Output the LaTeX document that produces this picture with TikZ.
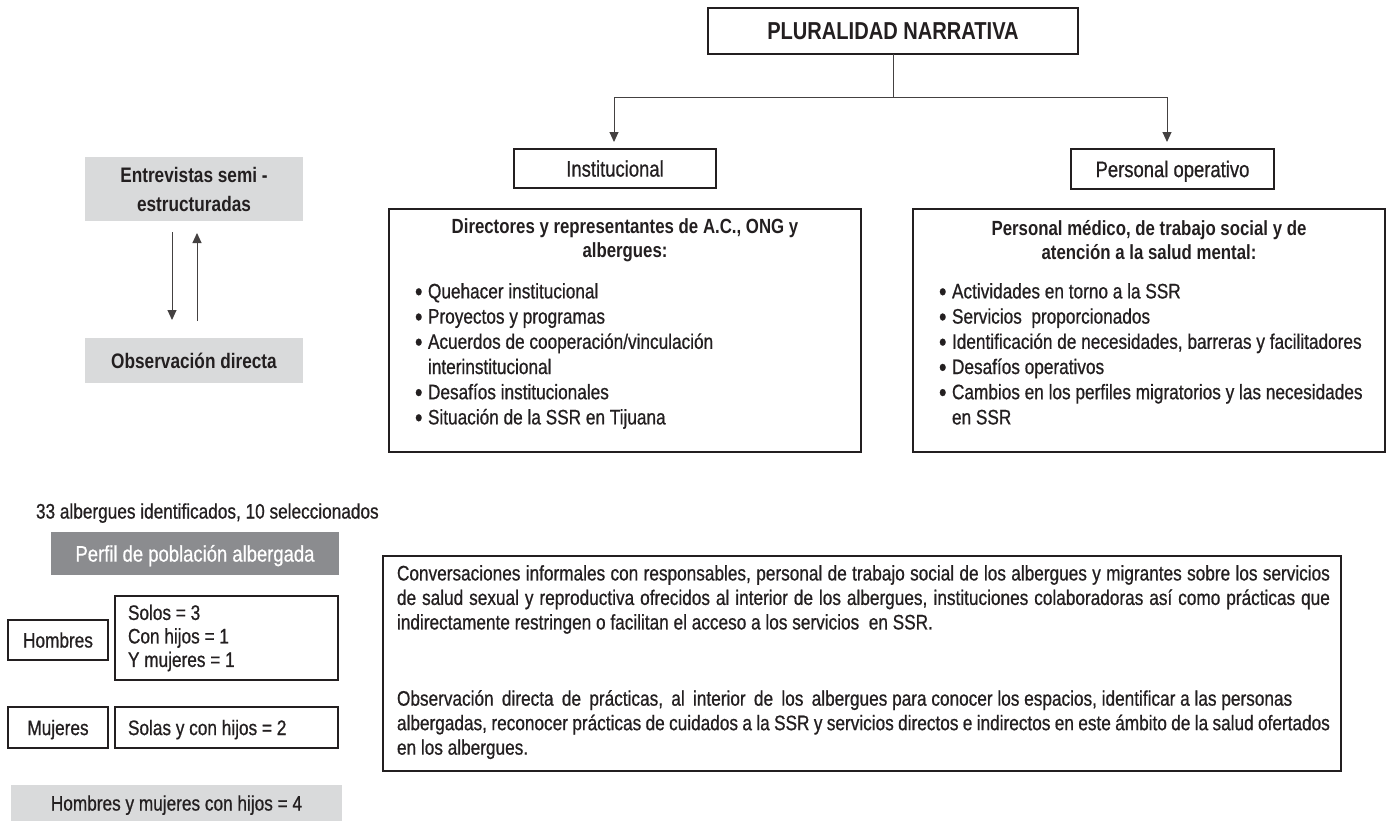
\documentclass[tikz,border=0pt]{standalone}
\usepackage{fontspec}
\setmainfont{Liberation Sans}[FakeStretch=0.82, UprightFeatures={FakeBold=0.7}]
\usetikzlibrary{arrows.meta}
\definecolor{ink}{HTML}{231F20}
\definecolor{lgray}{HTML}{D9DADB}
\definecolor{dgray}{HTML}{8B8C8F}
\hyphenpenalty=10000
\exhyphenpenalty=10000
\newcommand{\bl}{\makebox[13pt][l]{\raisebox{-2pt}{\fontsize{26}{26}\selectfont\textbullet}}}
\newcommand{\cont}{\hspace*{13pt}}
\newcommand{\wsp}{\hspace{8.3pt}}
\begin{document}
\begin{tikzpicture}[x=1pt,y=-1pt,
  every node/.style={text=ink, inner sep=0pt, outer sep=0pt},
  frame/.style={draw=ink, line width=1.6pt, fill=white},
  graybox/.style={fill=lgray},
  link/.style={draw=ink!85, line width=1pt},
  arr/.style={link, -{Triangle[length=10pt,width=9pt]}},
  reg/.style={font=\fontsize{21}{24.5}\selectfont},
  lab/.style={font=\fontsize{22.5}{27}\selectfont},
  caps/.style={text height=#1, text depth=0pt},
  bhead/.style={font=\bfseries\fontsize{20.5}{24.5}\selectfont, align=center},
  blist/.style={anchor=north west, text width=440pt, align=flush left, font=\fontsize{21}{25.2}\selectfont}
]
\useasboundingbox (0,0) rectangle (1386,822);
\fill[white] (0,0) rectangle (1386,822);

% top tree
\node[frame, minimum width=370pt, minimum height=46pt, caps=17.6pt,
      font=\bfseries\fontsize{24.5}{29}\selectfont] (title) at (893,31) {PLURALIDAD NARRATIVA};
\node[frame, lab, caps=16.2pt, minimum width=202pt, minimum height=39pt] (inst) at (615,168.5) {Institucional};
\node[frame, lab, caps=16.2pt, minimum width=203pt, minimum height=40pt] (pers) at (1172.5,169) {Personal operativo};
\coordinate (jl) at (614,97);
\coordinate (jr) at (1167,97);
\draw[link] (title.south) -- (title.south |- jl);
\draw[arr, shorten >=7pt] (title.south |- jl) -- (jl) -- (jl |- inst.north);
\draw[arr, shorten >=7pt] (title.south |- jl) -- (jr) -- (jr |- pers.north);

% big boxes
\node[frame, minimum width=472pt, minimum height=243pt] (lbox) at (625,330.5) {};
\node[bhead] (lhead) at (625,240) {Directores y representantes de A.C., ONG y\\albergues:};
\node[blist] (llist) at (415,283.2)
  {\bl Quehacer institucional\\\bl Proyectos y programas\\\bl Acuerdos de cooperación/vinculación\\\cont interinstitucional\\\bl Desafíos institucionales\\\bl Situación de la SSR en Tijuana};

\node[frame, minimum width=472pt, minimum height=243pt] (rbox) at (1149,330.5) {};
\node[bhead] (rhead) at (1149,240) {Personal médico, de trabajo social y de\\atención a la salud mental:};
\node[blist] (rlist) at (939,283.2)
  {\bl Actividades en torno a la SSR\\\bl Servicios\ \ proporcionados\\\bl Identificación de necesidades, barreras y facilitadores\\\bl Desafíos operativos\\\bl Cambios en los perfiles migratorios y las necesidades\\\cont en SSR};

% left method boxes
\node[graybox, minimum width=218pt, minimum height=64pt, align=center,
      font=\bfseries\fontsize{21}{29}\selectfont] (entre) at (194,189) {Entrevistas semi -\\estructuradas};
\node[graybox, minimum width=218pt, minimum height=45pt, caps=15.1pt,
      font=\bfseries\fontsize{21}{25}\selectfont] (obs) at (194,360.5) {Observación directa};
\coordinate (dx) at (172,0);
\coordinate (ux) at (197,0);
\draw[arr, shorten <=11pt, shorten >=18pt] (entre.south -| dx) -- (obs.north -| dx);
\draw[arr, shorten <=17pt, shorten >=12pt] (obs.north -| ux) -- (entre.south -| ux);

% bottom left
\node[anchor=west, reg, caps=15.1pt] (count) at (36,511) {33 albergues identificados, 10 seleccionados};
\node[fill=dgray, text=white, lab, caps=16.2pt, minimum width=288pt, minimum height=43pt] (perfil) at (195,553.5) {Perfil de población albergada};
\node[frame, reg, caps=15.1pt, minimum width=100pt, minimum height=40pt] (hom) at (58,640) {Hombres};
\node[frame, font=\fontsize{21}{23.5}\selectfont, align=flush left, text width=197pt,
      minimum width=223pt, minimum height=84pt] (solos) at (226.5,638) {Solos = 3\\Con hijos = 1\\Y mujeres = 1};
\node[frame, reg, caps=15.1pt, minimum width=100pt, minimum height=41pt] (muj) at (58,727.5) {Mujeres};
\node[frame, reg, caps=15.1pt, align=flush left, text width=197pt,
      minimum width=223pt, minimum height=41pt] (solas) at (226.5,727.5) {Solas y con hijos = 2};
\node[graybox, reg, caps=15.1pt, minimum width=331pt, minimum height=36pt] (hmh) at (176.5,803) {Hombres y mujeres con hijos = 4};

% bottom paragraph box
\node[frame, minimum width=958pt, minimum height=215pt] (pbox) at (862,663.5) {};
\node[anchor=north west, text width=933pt, align=justify, reg] (p1) at (397,565.2)
  {Conversaciones informales con responsables, personal de trabajo social de los albergues y migrantes sobre los servicios\linebreak de salud sexual y reproductiva ofrecidos al interior de los albergues, instituciones colaboradoras así como prácticas que\linebreak indirectamente restringen o facilitan el acceso a los servicios\ \ en SSR.};
\node[anchor=north west, text width=933pt, align=justify, reg] (p2) at (397,690.2)
  {Observación\wsp directa\wsp de\wsp prácticas,\wsp al\wsp interior\wsp de\wsp los\wsp albergues para conocer los espacios, identificar a las personas\newline albergadas, reconocer prácticas de cuidados a la SSR y servicios directos e indirectos en este ámbito de la salud ofertados\linebreak en los albergues.};
\end{tikzpicture}
\end{document}
